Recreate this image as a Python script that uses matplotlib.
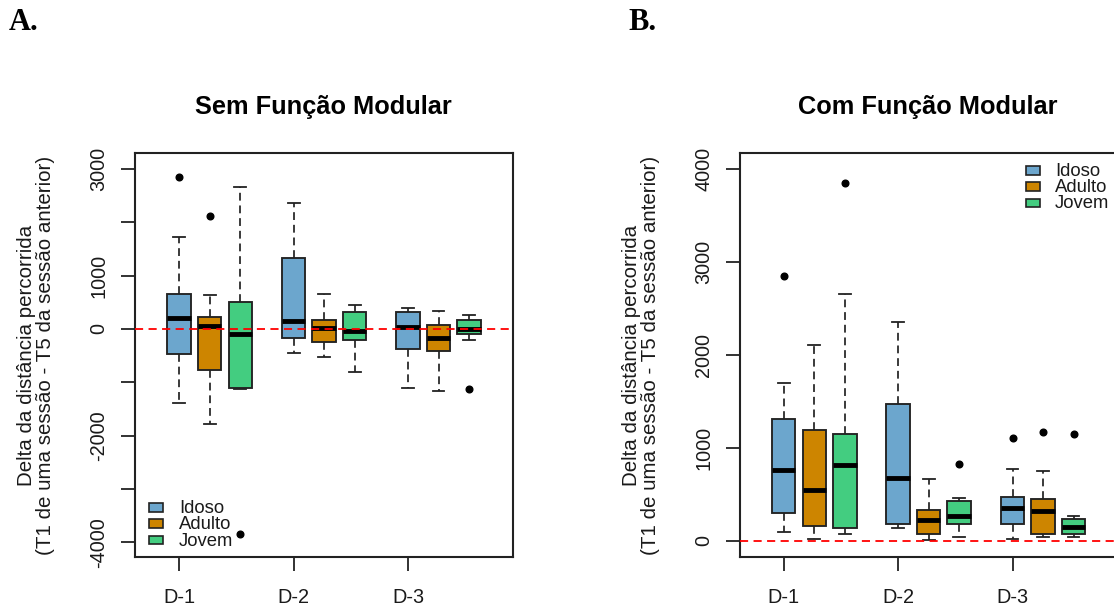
import matplotlib
matplotlib.use("Agg")
import matplotlib.pyplot as plt
from matplotlib.patches import Rectangle

plt.rcParams['font.family'] = ['Liberation Sans', 'DejaVu Sans']

# ---------------- data ----------------
groups = ["D-1", "D-2", "D-3"]
series = ["Idoso", "Adulto", "Jovem"]
colors = ["#6CA6CD", "#CD8500", "#43CD80"]

# Panel A - Sem Função Modular (rows: series Idoso/Adulto/Jovem, cols: D-1/D-2/D-3)
sem_whislo = [[-1381, -444, -1106], [-1775, -519, -1156], [-1131, -813, -200]]
sem_q1 = [[-469, -175, -375], [-769, -250, -419], [-1113, -200, -100]]
sem_med = [[200, 144, 44], [56, 25, -175], [-94, -37, 3]]
sem_q3 = [[662, 1325, 312], [219, 169, 75], [513, 319, 169]]
sem_whishi = [[1719, 2369, 394], [637, 662, 344], [2656, 444, 269]]
sem_fliers = [[[2856], [], []], [[2113], [], []], [[-3844], [], [-1131]]]
sem_yticks = [-4000, -3000, -2000, -1000, 0, 1000, 2000, 3000]
sem_yticklabels = ["-4000", "", "-2000", "", "0", "1000", "", "3000"]

# Panel B - Com Função Modular
com_whislo = [[90, 133, 18], [18, 5, 36], [75, 36, 36]]
com_q1 = [[301, 176, 176], [161, 75, 75], [133, 176, 75]]
com_med = [[756, 670, 348], [541, 220, 319], [810, 261, 151]]
com_q3 = [[1304, 1473, 473], [1190, 333, 444], [1150, 430, 233]]
com_whishi = [[1696, 2348, 771], [2108, 659, 745], [2656, 459, 261]]
com_fliers = [[[2842], [], [1108]], [[], [], [1165]], [[3846], [824], [1151]]]
com_yticks = [0, 1000, 2000, 3000, 4000]
com_yticklabels = ["0", "1000", "2000", "3000", "4000"]

titles = ["Sem Função Modular", "Com Função Modular"]
panel_letters = ["A.", "B."]
ylabel = "Delta da distância percorrida\n(T1 de uma sessão - T5 da sessão anterior)"

# ---------------- layout ----------------
W, H = 1114, 609
fig = plt.figure(figsize=(W / 100, H / 100), dpi=100)


def fx(px):
    return px / W


def fy(py):
    return 1 - py / H


GROUP_STEP = 3.75
EDGE = "#222222"
TXT = "#1a1a1a"


def panel(ax_left_px, whislo, q1, med, q3, whishi, fliers, ylim, yticks, yticklabels):
    ax = fig.add_axes([fx(ax_left_px), fy(557), fx(378), 404 / H])
    for s in range(len(series)):
        stats, pos = [], []
        for g in range(len(groups)):
            stats.append(dict(med=med[s][g], q1=q1[s][g], q3=q3[s][g],
                              whislo=whislo[s][g], whishi=whishi[s][g],
                              fliers=fliers[s][g]))
            pos.append(g * GROUP_STEP + s)
        ax.bxp(stats, positions=pos, widths=0.77, capwidths=0.385,
               patch_artist=True, showfliers=True, manage_ticks=False,
               boxprops=dict(facecolor=colors[s], edgecolor=EDGE, linewidth=1.35),
               medianprops=dict(color="black", linewidth=3.5, solid_capstyle="butt"),
               whiskerprops=dict(color=EDGE, linewidth=1.25, linestyle=(0, (4.5, 2.8))),
               capprops=dict(color=EDGE, linewidth=1.3),
               flierprops=dict(marker="o", markerfacecolor="black",
                               markeredgecolor="black", markersize=4.8,
                               linestyle="none"))
    ax.axhline(0, color="#FF0000", linewidth=1.3, linestyle=(0, (4.5, 3)), zorder=4)
    ax.set_xlim(-1.45, 10.94)
    ax.set_ylim(*ylim)
    ax.set_xticks([g * GROUP_STEP for g in range(len(groups))])
    ax.set_xticklabels(groups)
    ax.set_yticks(yticks)
    ax.set_yticklabels(yticklabels, rotation=90, va="center")
    ax.tick_params(axis="both", direction="out", length=10, width=1.3,
                   color=EDGE, labelcolor=TXT, labelsize=14.3)
    ax.tick_params(axis="y", pad=9)
    ax.tick_params(axis="x", pad=12)
    for sp in ax.spines.values():
        sp.set_color(EDGE)
        sp.set_linewidth(1.5)
    return ax


panel(135, sem_whislo, sem_q1, sem_med, sem_q3, sem_whishi, sem_fliers,
      (-4275, 3300), sem_yticks, sem_yticklabels)
panel(739.5, com_whislo, com_q1, com_med, com_q3, com_whishi, com_fliers,
      (-175, 4170), com_yticks, com_yticklabels)

# titles, y labels, panel letters
for cx, t in zip([323, 928], titles):
    fig.text(fx(cx), fy(114), t, ha="center", va="baseline",
             fontsize=18.3, fontweight="bold", color="black")
for lx, letter in zip([9, 628], panel_letters):
    fig.text(fx(lx), fy(30), letter, ha="left", va="baseline",
             fontsize=22, fontweight="bold", family="Liberation Serif", color="black")
for lx in [36, 641]:
    fig.text(fx(lx), fy(355), ylabel, ha="center", va="center", rotation=90,
             fontsize=14.8, color=TXT, linespacing=1.0, multialignment="center")


# legends
def legend(px_patch_x, px_text_x, centers_y):
    for s, cy in enumerate(centers_y):
        fig.patches.append(Rectangle((fx(px_patch_x), fy(cy + 4.2)), fx(14), 8.4 / H,
                                     transform=fig.transFigure, facecolor=colors[s],
                                     edgecolor=EDGE, linewidth=1.2))
        fig.text(fx(px_text_x), fy(cy + 1), series[s], ha="left", va="center",
                 fontsize=13.3, color=TXT)


legend(149, 179, [507.5, 523.5, 540])
legend(1026, 1055, [170.5, 186.7, 202.8])

fig.savefig("out.png", dpi=100)
